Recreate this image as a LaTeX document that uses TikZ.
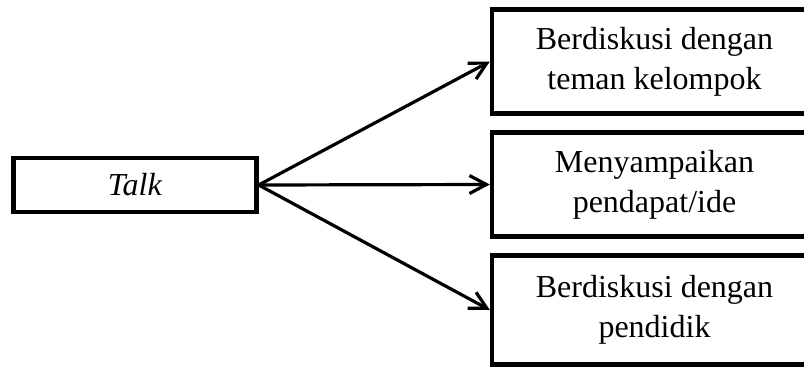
\documentclass[tikz,border=0pt]{standalone}
\usepackage{fontspec}
\setmainfont{Liberation Serif}
\usetikzlibrary{arrows.meta}

\begin{document}
\begin{tikzpicture}[x=1pt,y=-1pt,>={Straight Barb[length=17pt,width=18pt]},
		box/.style={draw,line width=4.3pt,align=center,inner sep=0pt,font=\fontsize{32}{40}\selectfont},
		arr/.style={->,line width=3.2pt}]
		\useasboundingbox (0,0) rectangle (804,367);
		\clip (0,0) rectangle (804,367);
		\node [box,minimum width=243pt,minimum height=54pt] (talk) at (135,185) {\textit{Talk}};
		\node [box,minimum width=325pt,minimum height=104pt] (kelompok) at (654.5,61.5) {Berdiskusi dengan\\teman kelompok};
		\node [box,minimum width=325pt,minimum height=104pt] (ide) at (654.5,184.5) {Menyampaikan\\pendapat/ide};
		\node [box,minimum width=325pt,minimum height=109pt] (pendidik) at (654.5,310) {Berdiskusi dengan\\pendidik};
		\draw [arr] (talk.east) -- (kelompok.west);
		\draw [arr] (talk.east) -- (ide.west);
		\draw [arr] (talk.east) -- (pendidik.west);
	\end{tikzpicture}
\end{document}
